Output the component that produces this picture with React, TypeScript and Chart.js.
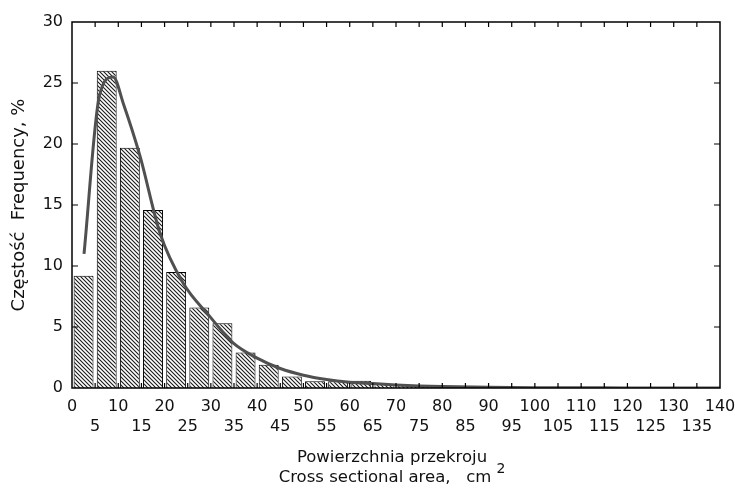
import React, { useEffect, useRef } from 'react';
import { Chart, registerables } from 'chart.js';

Chart.register(...registerables);

// Histogram bins (centre of each 5 cm² class) and frequencies, %
const binCenters = [2.5, 7.5, 12.5, 17.5, 22.5, 27.5, 32.5, 37.5, 42.5, 47.5, 52.5, 57.5, 62.5, 67.5, 72.5, 77.5, 82.5, 87.5, 92.5, 97.5, 102.5, 107.5];
const frequencies = [9.2, 26.0, 19.7, 14.6, 9.5, 6.6, 5.3, 2.9, 1.9, 0.95, 0.55, 0.55, 0.6, 0.33, 0.25, 0.2, 0.15, 0.12, 0.1, 0.08, 0.06, 0.05];

// Fitted distribution curve
const curveX = [2.6, 5.9, 8.9, 11.1, 14.7, 19, 24, 29.8, 34.8, 40, 45, 50, 55, 60, 65, 70, 75, 80, 90, 100, 110, 120, 130, 140];
const curveY = [11.0, 23.9, 25.5, 23.3, 19.0, 12.7, 8.6, 5.85, 3.7, 2.45, 1.6, 1.05, 0.7, 0.48, 0.36, 0.25, 0.17, 0.12, 0.06, 0.03, 0.02, 0.01, 0.01, 0.0];

// Tick labels: first row and second row
const xTicksRow1 = [0, 10, 20, 30, 40, 50, 60, 70, 80, 90, 100, 110, 120, 130, 140];
const xTicksRow2 = [5, 15, 25, 35, 45, 55, 65, 75, 85, 95, 105, 115, 125, 135];
const yTicks = [0, 5, 10, 15, 20, 25, 30];

const yTitle = 'Częstość  Frequency, %';
const xTitle1 = 'Powierzchnia przekroju';
const xTitle2 = 'Cross sectional area,   cm';
const xTitleSup = '2';

const FONT = '"DejaVu Sans", "Liberation Sans", Arial, sans-serif';

function makeHatch(): CanvasPattern | string {
  const c = document.createElement('canvas');
  c.width = 4;
  c.height = 4;
  const g = c.getContext('2d');
  if (!g) return '#888';
  g.fillStyle = '#ffffff';
  g.fillRect(0, 0, 4, 4);
  g.strokeStyle = '#1a1a1a';
  g.lineWidth = 1.1;
  g.beginPath();
  g.moveTo(-1, -1);
  g.lineTo(5, 5);
  g.moveTo(-1, 3);
  g.lineTo(1, 5);
  g.moveTo(3, -1);
  g.lineTo(5, 1);
  g.stroke();
  const p = g.createPattern(c, 'repeat');
  return p || '#888';
}

const framePlugin = {
  id: 'frameAndTitles',
  afterDraw(chart: any) {
    const { ctx, chartArea } = chart;
    const { left, right, top, bottom } = chartArea;
    const xs = chart.scales.x;
    const ys = chart.scales.y;
    ctx.save();
    ctx.strokeStyle = '#000';
    ctx.lineWidth = 1.5;
    ctx.strokeRect(left, top, right - left, bottom - top);
    ctx.lineWidth = 1.2;
    ctx.beginPath();
    for (let v = 5; v < 140; v += 5) {
      const px = xs.getPixelForValue(v);
      ctx.moveTo(px, bottom);
      ctx.lineTo(px, bottom - 5);
      ctx.moveTo(px, top);
      ctx.lineTo(px, top + 5);
    }
    for (const v of yTicks) {
      if (v === 0 || v === 30) continue;
      const py = ys.getPixelForValue(v);
      ctx.moveTo(left, py);
      ctx.lineTo(left + 6, py);
      ctx.moveTo(right, py);
      ctx.lineTo(right - 6, py);
    }
    ctx.stroke();

    // x-axis titles
    const cx = (left + right) / 2 - 4;
    ctx.fillStyle = '#111';
    ctx.textBaseline = 'middle';
    ctx.font = `16.5px ${FONT}`;
    ctx.textAlign = 'center';
    ctx.fillText(xTitle1, cx, 458);
    const w2 = ctx.measureText(xTitle2).width;
    ctx.font = `14px ${FONT}`;
    const ws = ctx.measureText(xTitleSup).width;
    const startX = cx - (w2 + ws + 5) / 2;
    ctx.textAlign = 'left';
    ctx.font = `16.5px ${FONT}`;
    ctx.fillText(xTitle2, startX, 478);
    ctx.font = `14px ${FONT}`;
    ctx.fillText(xTitleSup, startX + w2 + 5, 469);
    ctx.restore();
  },
};

export default function App() {
  const ref = useRef<HTMLCanvasElement | null>(null);

  useEffect(() => {
    if (!ref.current) return;
    const hatch = makeHatch();
    const chart = new Chart(ref.current, {
      type: 'bar',
      data: {
        datasets: [
          {
            type: 'line' as const,
            data: curveX.map((x, i) => ({ x, y: curveY[i] })),
            borderColor: '#505050',
            borderWidth: 3,
            pointRadius: 0,
            cubicInterpolationMode: 'monotone' as const,
            fill: false,
            order: 0,
          },
          {
            type: 'bar' as const,
            data: binCenters.map((x, i) => ({ x, y: frequencies[i] })),
            backgroundColor: hatch as any,
            borderColor: '#000',
            borderWidth: 1,
            barPercentage: 0.86,
            categoryPercentage: 1,
            grouped: false,
            order: 1,
          } as any,
        ],
      },
      options: {
        animation: false,
        responsive: true,
        maintainAspectRatio: false,
        layout: { padding: { top: 22, right: 15, left: 0, bottom: 0 } },
        plugins: {
          legend: { display: false },
          tooltip: { enabled: false },
        },
        scales: {
          x: {
            type: 'linear',
            min: 0,
            max: 140,
            offset: false,
            grid: { display: false, drawTicks: false, offset: false },
            border: { display: false },
            ticks: {
              stepSize: 5,
              autoSkip: false,
              maxRotation: 0,
              minRotation: 0,
              padding: 9,
              color: '#111',
              font: { family: FONT, size: 16, lineHeight: 1.25 },
              callback: (v: any) => {
                const n = Number(v);
                if (xTicksRow1.includes(n)) return [String(n), ''];
                if (xTicksRow2.includes(n)) return ['', String(n)];
                return '';
              },
            },
            afterFit: (s: any) => {
              s.height = 100;
              s.paddingLeft = 0;
              s.paddingRight = 0;
            },
          },
          y: {
            min: 0,
            max: 30,
            grid: { display: false, drawTicks: false },
            border: { display: false },
            ticks: {
              stepSize: 5,
              padding: 9,
              color: '#111',
              font: { family: FONT, size: 16 },
              callback: (v: any) => (yTicks.includes(Number(v)) ? String(v) : ''),
            },
            title: {
              display: true,
              text: yTitle,
              color: '#111',
              font: { family: FONT, size: 18 },
              padding: { top: 9, bottom: 0 },
            },
            afterFit: (s: any) => {
              s.width = 72;
              s.paddingTop = 0;
              s.paddingBottom = 0;
            },
          },
        },
      },
      plugins: [framePlugin],
    });
    return () => chart.destroy();
  }, []);

  return (
    <div style={{ position: 'fixed', left: 0, top: 0, width: 735, height: 488, background: '#fff' }}>
      <canvas ref={ref} />
    </div>
  );
}
